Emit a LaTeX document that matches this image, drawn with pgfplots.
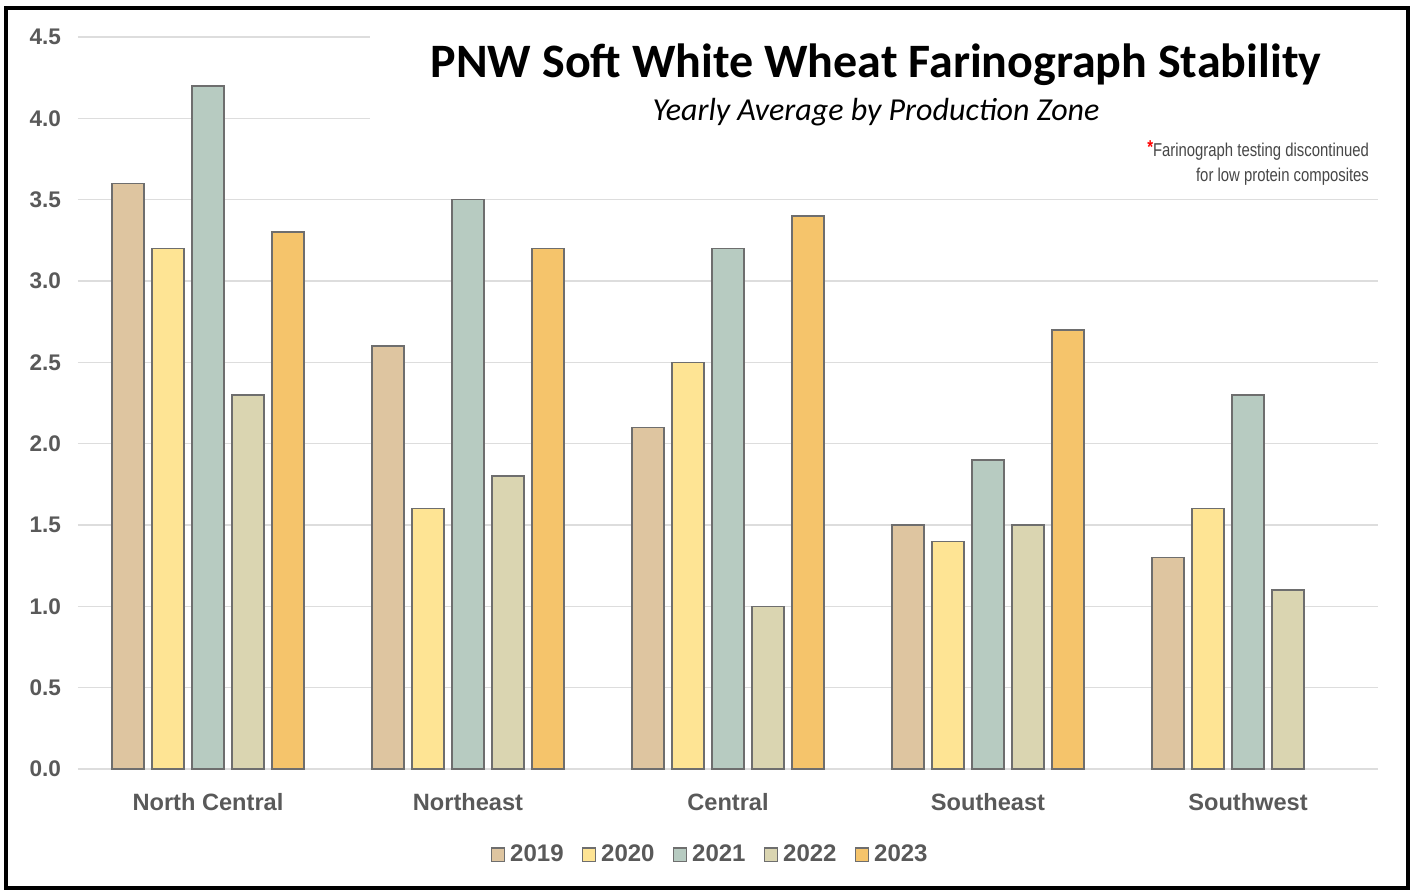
\documentclass[border=0pt]{standalone}
\usepackage{pgfplots}
\pgfplotsset{compat=1.18}
\usepackage{fontspec}
\setmainfont{Liberation Sans}
\newfontfamily\calibri{Carlito}
\newfontfamily\cond[FakeStretch=0.8]{Liberation Sans}
\definecolor{c19}{HTML}{DEC5A0}
\definecolor{c20}{HTML}{FEE494}
\definecolor{c21}{HTML}{B7CBC1}
\definecolor{c22}{HTML}{DAD5B1}
\definecolor{c23}{HTML}{F5C46B}
\definecolor{edge}{HTML}{6E6E6E}
\definecolor{txt}{HTML}{595959}
\definecolor{gridc}{HTML}{DDDDDD}
\begin{document}
\begin{tikzpicture}
% page area and frame
\path[use as bounding box] (-39pt,-61pt) rectangle (668pt,384.5pt);
\begin{axis}[
  at={(0,0)}, anchor=south west,
  scale only axis, width=650pt, height=366pt,
  ybar, bar width=0.123,
  xmin=-0.5, xmax=4.5, ymin=0, ymax=4.5,
  ytick={0,0.5,...,4.5},
  yticklabel style={xshift=-5pt},
  y tick label style={/pgf/number format/.cd, fixed, fixed zerofill, precision=1},
  /pgf/number format/assume math mode=true,
  xtick={0,1,2,3,4},
  xticklabels={North Central, Northeast, Central, Southeast, Southwest},
  tick style={draw=none},
  axis line style={draw=none},
  ymajorgrids, grid style={gridc, line width=0.75pt},
  tick label style={font=\fontsize{11.3}{13}\selectfont\bfseries, text=txt},
  xticklabel style={font=\fontsize{11.8}{14}\selectfont\bfseries, yshift=-4.5pt},
  legend columns=5,
  legend style={at={(0.487,-0.117)}, anchor=center, draw=none,
    font=\fontsize{12}{14}\selectfont\bfseries, text=txt,
    /tikz/every even column/.append style={column sep=7pt},
    /tikz/every odd column/.append style={column sep=0.5pt}},
  legend image code/.code={\draw[#1, draw=edge, line width=0.7pt] (0pt,-3.3pt) rectangle (6.6pt,3.3pt);},
  every axis plot/.append style={draw=edge, line width=0.75pt},
]
\addplot[fill=c19, bar shift=-0.308] coordinates {(0,3.6) (1,2.6) (2,2.1) (3,1.5) (4,1.3)};
\addplot[fill=c20, bar shift=-0.154] coordinates {(0,3.2) (1,1.6) (2,2.5) (3,1.4) (4,1.6)};
\addplot[fill=c21, bar shift=0] coordinates {(0,4.2) (1,3.5) (2,3.2) (3,1.9) (4,2.3)};
\addplot[fill=c22, bar shift=0.154] coordinates {(0,2.3) (1,1.8) (2,1.0) (3,1.5) (4,1.1)};
\addplot[fill=c23, bar shift=0.308] coordinates {(0,3.3) (1,3.2) (2,3.4) (3,2.7)};
\legend{2019,2020,2021,2022,2023}
\end{axis}
% title box hides gridlines
\fill[white] (146pt,287pt) rectangle (651pt,372pt);
\node[font=\calibri\bfseries\fontsize{24}{27}\selectfont] at (399pt,352pt) {PNW Soft White Wheat Farinograph Stability};
\node[font=\calibri\itshape\fontsize{16}{18}\selectfont] at (399pt,328.5pt) {Yearly Average by Production Zone};
\node[font=\cond\fontsize{9.3}{12.5}\selectfont, text=black!72, anchor=east, align=right] at (649pt,303pt)
  {\textcolor{red}{\raisebox{0.25ex}{\textbf{*}}}Farinograph testing discontinued\\for low protein composites};
\draw[black, line width=2pt] (-36pt,-59.5pt) rectangle (665pt,380.5pt);
\end{tikzpicture}
\end{document}
